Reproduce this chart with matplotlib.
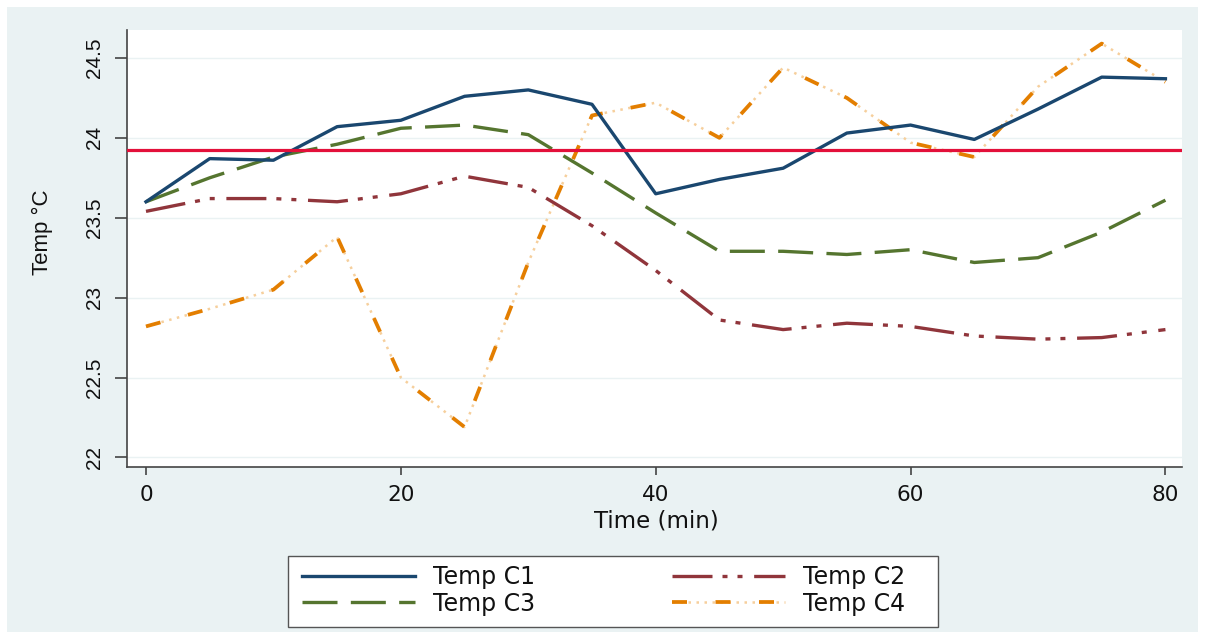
import matplotlib
matplotlib.use("Agg")
import matplotlib.pyplot as plt
from matplotlib.patches import Rectangle

plt.rcParams['font.family'] = ['DejaVu Sans']

time_min = [0, 5, 10, 15, 20, 25, 30, 35, 40, 45, 50, 55, 60, 65, 70, 75, 80]
temp_c1 = [23.60, 23.87, 23.86, 24.07, 24.11, 24.26, 24.30, 24.21, 23.65, 23.74, 23.81,
           24.03, 24.08, 23.99, 24.18, 24.38, 24.37]
temp_c2 = [23.54, 23.62, 23.62, 23.60, 23.65, 23.76, 23.69, 23.45, 23.17, 22.86, 22.80,
           22.84, 22.82, 22.76, 22.74, 22.75, 22.80]
temp_c3 = [23.60, 23.75, 23.88, 23.96, 24.06, 24.08, 24.02, 23.78, 23.53, 23.29, 23.29,
           23.27, 23.30, 23.22, 23.25, 23.41, 23.61]
temp_c4 = [22.82, 22.93, 23.05, 23.38, 22.50, 22.19, 23.22, 24.14, 24.22, 24.00, 24.44,
           24.25, 23.97, 23.88, 24.32, 24.59, 24.35]
ref_temp = 23.925
yticks = [22, 22.5, 23, 23.5, 24, 24.5]
ytick_labels = ["22", "22.5", "23", "23.5", "24", "24.5"]
xticks = [0, 20, 40, 60, 80]
labels = ["Temp C1", "Temp C2", "Temp C3", "Temp C4"]

W, H = 1207, 639
fig = plt.figure(figsize=(W / 100, H / 100), dpi=100, facecolor='white')
bg = '#eaf2f3'
fig.patches.append(Rectangle((7 / W, 7 / H), (1198 - 7) / W, (632 - 7) / H,
                             transform=fig.transFigure, facecolor=bg, edgecolor='none', zorder=-10))
# legend frame
fig.patches.append(Rectangle((288 / W, (H - 627) / H), 650 / W, 71 / H,
                             transform=fig.transFigure, facecolor='white',
                             edgecolor='#555555', lw=1.0, zorder=-5))

ax = fig.add_axes([127 / W, (H - 467) / H, (1182 - 127) / W, (467 - 30) / H])
ax.set_facecolor('white')

navy = '#1a476f'
maroon = '#90353b'
green = '#55752f'
orange = '#e37e00'
red = '#e3103a'

lw = 2.4
for y in yticks:
    ax.axhline(y, color='#eaf2f3', lw=1.0, zorder=0)

ax.axhline(ref_temp, color=red, lw=2.3, zorder=5)

l1, = ax.plot(time_min, temp_c1, color=navy, lw=lw, zorder=4, solid_joinstyle='round')
l2, = ax.plot(time_min, temp_c2, color=maroon, lw=lw, dashes=(12, 3, 1.5, 3, 1.5, 3.5), zorder=3)
l3, = ax.plot(time_min, temp_c3, color=green, lw=lw, dashes=(10.5, 4), zorder=3)
l4b, = ax.plot(time_min, temp_c4, color='#f6cf9c', lw=1.8, dashes=(1, 2.2), zorder=2)
l4a, = ax.plot(time_min, temp_c4, color=orange, lw=lw + 0.3, dashes=(4, 7.6), zorder=3)

ax.set_xlim(-1.49, 81.3)
ax.set_ylim(21.94, 24.675)
ax.set_yticks(yticks)
ax.set_yticklabels(ytick_labels, rotation=90, va='center',
                   fontfamily='Liberation Sans', fontsize=15)
ax.set_xticks(xticks)
ax.set_xticklabels([str(x) for x in xticks], fontsize=15.5)
ax.tick_params(axis='both', direction='out', width=1.2, color='#444444', labelcolor='#111111')
ax.tick_params(axis='x', length=6, pad=7)
ax.tick_params(axis='y', length=8.5, pad=8)
for s in ['top', 'right']:
    ax.spines[s].set_visible(False)
for s in ['left', 'bottom']:
    ax.spines[s].set_color('#444444')
    ax.spines[s].set_linewidth(1.2)

ax.set_xlabel("Time (min)", fontsize=16.5, color='#111111')
ax.xaxis.set_label_coords((656 - 127) / 1055, (467 - 509) / 437)
ax.set_ylabel("Temp °C", fontsize=16, fontfamily='Liberation Sans', color='#111111')
ax.yaxis.set_label_coords((53 - 127) / 1055, (467 - 232) / 437)

leg = fig.legend([l1, l3, l2, (l4b, l4a)], ["Temp C1", "Temp C3", "Temp C2", "Temp C4"],
                 ncol=2, loc='center',
                 bbox_to_anchor=(603.5 / W, (H - 590.5) / H),
                 prop={'size': 17},
                 frameon=False,
                 handlelength=4.8, handletextpad=0.76, columnspacing=5.8,
                 labelspacing=0.1, borderpad=0.0, borderaxespad=0)
for t in leg.get_texts():
    t.set_color('#111111')

fig.savefig("out.png", dpi=100, facecolor='white')
